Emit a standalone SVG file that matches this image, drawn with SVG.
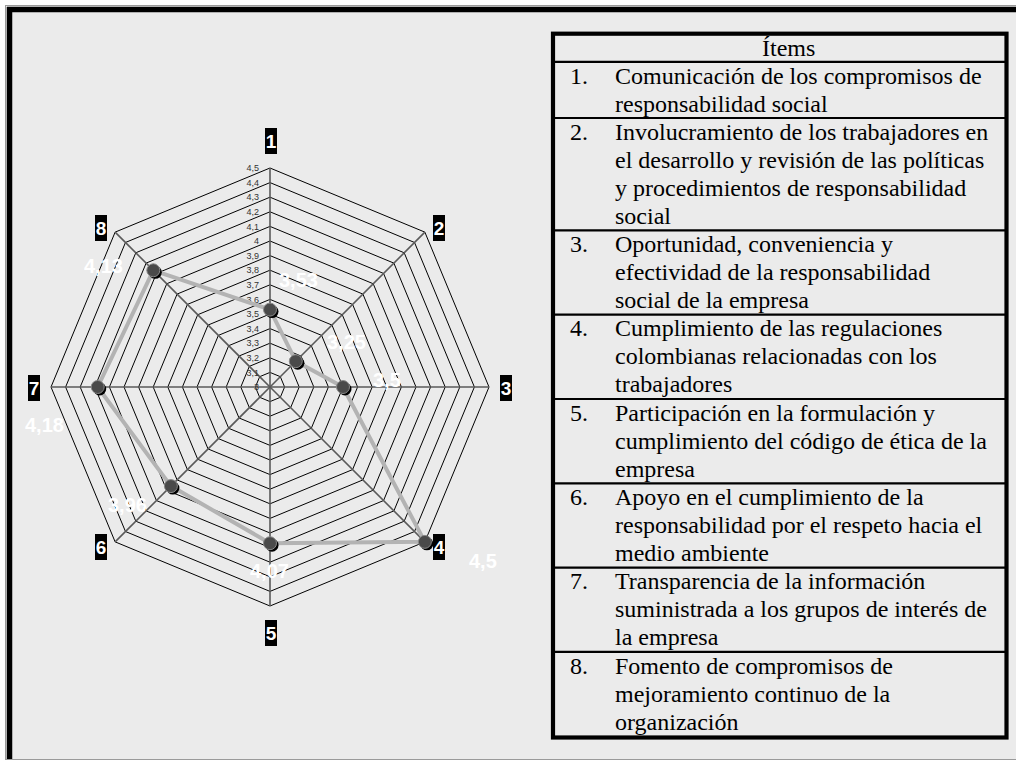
<svg xmlns="http://www.w3.org/2000/svg" width="1016" height="762" viewBox="0 0 1016 762">
<style>
.ring{fill:none;stroke:#000;stroke-width:1}
.axis{stroke:#5a5a5a;stroke-width:1.6}
.sc{font-family:"Liberation Sans",Arial,sans-serif;font-size:9px;fill:#333;text-anchor:end}
.ax rect{fill:#000}
.ax text{font-family:"Liberation Sans",Arial,sans-serif;font-size:19px;font-weight:bold;fill:#fff;text-anchor:middle}
.dl{font-family:"Liberation Sans",Arial,sans-serif;font-size:20px;font-weight:bold;fill:#fff}
.t{font-family:"Liberation Serif","Times New Roman",serif;font-size:24px;fill:#000}
.div{stroke:#000;stroke-width:2.2}
</style>
<rect x="0" y="0" width="1016" height="762" fill="#fff"/>
<rect x="5.5" y="5.5" width="1020" height="754" fill="#ebebeb" stroke="#9a9a9a" stroke-width="1"/>
<line x1="9.5" y1="7" x2="9.5" y2="759" stroke="#000" stroke-width="5.5"/>
<line x1="7" y1="9.5" x2="1016" y2="9.5" stroke="#000" stroke-width="5.5"/>

<g id="radar-grid">
<polygon class="ring" points="270,372.4 280.32,376.68 284.6,387 280.32,397.32 270,401.6 259.68,397.32 255.4,387 259.68,376.68"/>
<polygon class="ring" points="270,357.8 290.65,366.35 299.2,387 290.65,407.65 270,416.2 249.35,407.65 240.8,387 249.35,366.35"/>
<polygon class="ring" points="270,343.2 300.97,356.03 313.8,387 300.97,417.97 270,430.8 239.03,417.97 226.2,387 239.03,356.03"/>
<polygon class="ring" points="270,328.6 311.3,345.7 328.4,387 311.3,428.3 270,445.4 228.7,428.3 211.6,387 228.7,345.7"/>
<polygon class="ring" points="270,314 321.62,335.38 343,387 321.62,438.62 270,460 218.38,438.62 197,387 218.38,335.38"/>
<polygon class="ring" points="270,299.4 331.94,325.06 357.6,387 331.94,448.94 270,474.6 208.06,448.94 182.4,387 208.06,325.06"/>
<polygon class="ring" points="270,284.8 342.27,314.73 372.2,387 342.27,459.27 270,489.2 197.73,459.27 167.8,387 197.73,314.73"/>
<polygon class="ring" points="270,270.2 352.59,304.41 386.8,387 352.59,469.59 270,503.8 187.41,469.59 153.2,387 187.41,304.41"/>
<polygon class="ring" points="270,255.6 362.91,294.09 401.4,387 362.91,479.91 270,518.4 177.09,479.91 138.6,387 177.09,294.09"/>
<polygon class="ring" points="270,241 373.24,283.76 416,387 373.24,490.24 270,533 166.76,490.24 124,387 166.76,283.76"/>
<polygon class="ring" points="270,226.4 383.56,273.44 430.6,387 383.56,500.56 270,547.6 156.44,500.56 109.4,387 156.44,273.44"/>
<polygon class="ring" points="270,211.8 393.89,263.11 445.2,387 393.89,510.89 270,562.2 146.11,510.89 94.8,387 146.11,263.11"/>
<polygon class="ring" points="270,197.2 404.21,252.79 459.8,387 404.21,521.21 270,576.8 135.79,521.21 80.2,387 135.79,252.79"/>
<polygon class="ring" points="270,182.6 414.53,242.47 474.4,387 414.53,531.53 270,591.4 125.47,531.53 65.6,387 125.47,242.47"/>
<polygon class="ring" points="270,168 424.86,232.14 489,387 424.86,541.86 270,606 115.14,541.86 51,387 115.14,232.14"/>
<line class="axis" x1="270" y1="387" x2="270" y2="168"/>
<line class="axis" x1="270" y1="387" x2="424.86" y2="232.14"/>
<line class="axis" x1="270" y1="387" x2="489" y2="387"/>
<line class="axis" x1="270" y1="387" x2="424.86" y2="541.86"/>
<line class="axis" x1="270" y1="387" x2="270" y2="606"/>
<line class="axis" x1="270" y1="387" x2="115.14" y2="541.86"/>
<line class="axis" x1="270" y1="387" x2="51" y2="387"/>
<line class="axis" x1="270" y1="387" x2="115.14" y2="232.14"/>
</g>

<g id="scale-labels">
<text class="sc" x="259" y="390.2">3</text>
<text class="sc" x="259" y="375.6">3,1</text>
<text class="sc" x="259" y="361">3,2</text>
<text class="sc" x="259" y="346.4">3,3</text>
<text class="sc" x="259" y="331.8">3,4</text>
<text class="sc" x="259" y="317.2">3,5</text>
<text class="sc" x="259" y="302.6">3,6</text>
<text class="sc" x="259" y="288">3,7</text>
<text class="sc" x="259" y="273.4">3,8</text>
<text class="sc" x="259" y="258.8">3,9</text>
<text class="sc" x="259" y="244.2">4</text>
<text class="sc" x="259" y="229.6">4,1</text>
<text class="sc" x="259" y="215">4,2</text>
<text class="sc" x="259" y="200.4">4,3</text>
<text class="sc" x="259" y="185.8">4,4</text>
<text class="sc" x="259" y="171.2">4,5</text>
</g>

<g id="connectors">
<polygon points="270,309.6 295.8,361.2 343,387 424.86,541.86 270,543.2 170.9,486.1 97.7,387 153.3,270.3" fill="none" stroke="#b3b3b3" stroke-width="4" stroke-linejoin="round"/>
</g>

<g id="data-points">
<g fill="#000">
<circle cx="272" cy="311.6" r="6.5"/>
<circle cx="297.8" cy="363.2" r="6.5"/>
<circle cx="345" cy="389" r="6.5"/>
<circle cx="426.86" cy="543.86" r="6.5"/>
<circle cx="272" cy="545.2" r="6.5"/>
<circle cx="172.9" cy="488.1" r="6.5"/>
<circle cx="99.7" cy="389" r="6.5"/>
<circle cx="155.3" cy="272.3" r="6.5"/>
</g>
<g fill="#4a4a4a" stroke="#8a8a8a" stroke-width="1">
<circle cx="270" cy="309.6" r="6.5"/>
<circle cx="295.8" cy="361.2" r="6.5"/>
<circle cx="343" cy="387" r="6.5"/>
<circle cx="424.86" cy="541.86" r="6.5"/>
<circle cx="270" cy="543.2" r="6.5"/>
<circle cx="170.9" cy="486.1" r="6.5"/>
<circle cx="97.7" cy="387" r="6.5"/>
<circle cx="153.3" cy="270.3" r="6.5"/>
</g>
</g>

<g id="data-labels">
<text class="dl" x="279" y="287">3,53</text>
<text class="dl" x="327" y="349">3,25</text>
<text class="dl" x="373" y="387">3,5</text>
<text class="dl" x="469" y="568">4,5</text>
<text class="dl" x="250" y="578">4,07</text>
<text class="dl" x="108" y="512">3,96</text>
<text class="dl" x="25" y="432">4,18</text>
<text class="dl" x="84" y="273">4,13</text>
</g>

<g id="axis-1" class="ax"><rect x="265" y="128" width="12" height="26"/><text x="271" y="148">1</text></g>
<g id="axis-2" class="ax"><rect x="433" y="215" width="12" height="26"/><text x="439" y="235">2</text></g>
<g id="axis-3" class="ax"><rect x="500" y="375" width="12" height="26"/><text x="506" y="395">3</text></g>
<g id="axis-4" class="ax"><rect x="433" y="534" width="12" height="26"/><text x="439" y="554">4</text></g>
<g id="axis-5" class="ax"><rect x="265" y="620" width="12" height="26"/><text x="271" y="640">5</text></g>
<g id="axis-6" class="ax"><rect x="95" y="534" width="12" height="26"/><text x="101" y="554">6</text></g>
<g id="axis-7" class="ax"><rect x="28" y="375" width="12" height="26"/><text x="34" y="395">7</text></g>
<g id="axis-8" class="ax"><rect x="95" y="215" width="12" height="26"/><text x="101" y="235">8</text></g>

<g id="items-table">
<rect x="553" y="33.7" width="453.5" height="703.8" fill="none" stroke="#000" stroke-width="4.2"/>
<line class="div" x1="553" y1="61.8" x2="1006.5" y2="61.8"/>
<line class="div" x1="553" y1="118" x2="1006.5" y2="118"/>
<line class="div" x1="553" y1="230.4" x2="1006.5" y2="230.4"/>
<line class="div" x1="553" y1="314.7" x2="1006.5" y2="314.7"/>
<line class="div" x1="553" y1="399" x2="1006.5" y2="399"/>
<line class="div" x1="553" y1="483.3" x2="1006.5" y2="483.3"/>
<line class="div" x1="553" y1="567.6" x2="1006.5" y2="567.6"/>
<line class="div" x1="553" y1="651.9" x2="1006.5" y2="651.9"/>
<text class="t" x="762" y="56">Ítems</text>
<text class="t" x="570" y="83.5">1.</text>
<text class="t" x="615" y="83.5">Comunicación de los compromisos de</text>
<text class="t" x="615" y="111.5">responsabilidad social</text>
<text class="t" x="570" y="139.7">2.</text>
<text class="t" x="615" y="139.7">Involucramiento de los trabajadores en</text>
<text class="t" x="615" y="167.7">el desarrollo y revisión de las políticas</text>
<text class="t" x="615" y="195.7">y procedimientos de responsabilidad</text>
<text class="t" x="615" y="223.7">social</text>
<text class="t" x="570" y="252">3.</text>
<text class="t" x="615" y="252">Oportunidad, conveniencia y</text>
<text class="t" x="615" y="280">efectividad de la responsabilidad</text>
<text class="t" x="615" y="308">social de la empresa</text>
<text class="t" x="570" y="336.3">4.</text>
<text class="t" x="615" y="336.3">Cumplimiento de las regulaciones</text>
<text class="t" x="615" y="364.3">colombianas relacionadas con los</text>
<text class="t" x="615" y="392.3">trabajadores</text>
<text class="t" x="570" y="420.6">5.</text>
<text class="t" x="615" y="420.6">Participación en la formulación y</text>
<text class="t" x="615" y="448.6">cumplimiento del código de ética de la</text>
<text class="t" x="615" y="476.6">empresa</text>
<text class="t" x="570" y="504.9">6.</text>
<text class="t" x="615" y="504.9">Apoyo en el cumplimiento de la</text>
<text class="t" x="615" y="532.9">responsabilidad por el respeto hacia el</text>
<text class="t" x="615" y="560.9">medio ambiente</text>
<text class="t" x="570" y="589.2">7.</text>
<text class="t" x="615" y="589.2">Transparencia de la información</text>
<text class="t" x="615" y="617.2">suministrada a los grupos de interés de</text>
<text class="t" x="615" y="645.2">la empresa</text>
<text class="t" x="570" y="673.5">8.</text>
<text class="t" x="615" y="673.5">Fomento de compromisos de</text>
<text class="t" x="615" y="701.5">mejoramiento continuo de la</text>
<text class="t" x="615" y="729.5">organización</text>
</g>
</svg>
